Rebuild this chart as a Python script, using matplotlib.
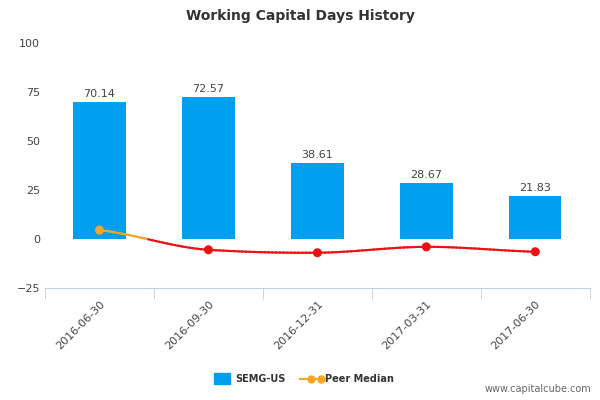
import matplotlib.pyplot as plt
import numpy as np

categories = ["2016-06-30", "2016-09-30", "2016-12-31", "2017-03-31", "2017-06-30"]
semg_values = [70.14, 72.57, 38.61, 28.67, 21.83]
peer_median = [4.5, -5.5, -7.0, -4.0, -6.5]


def smooth(x, y, n=30):
    # Catmull-Rom style curve through the points
    x = np.asarray(x, float)
    y = np.asarray(y, float)
    m = np.gradient(y, x)
    xs, ys = [], []
    for i in range(len(x) - 1):
        t = np.linspace(0, 1, n)
        h = x[i + 1] - x[i]
        h00 = 2 * t**3 - 3 * t**2 + 1
        h10 = t**3 - 2 * t**2 + t
        h01 = -2 * t**3 + 3 * t**2
        h11 = t**3 - t**2
        xs.append(x[i] + t * h)
        ys.append(h00 * y[i] + h10 * h * m[i] * 0.6 + h01 * y[i + 1] + h11 * h * m[i + 1] * 0.6)
    return np.concatenate(xs), np.concatenate(ys)


def main() -> None:
    fig = plt.figure(figsize=(6, 4), dpi=100)
    ax = fig.add_axes([0.075, 0.28, 0.908, 0.6125])

    x = np.arange(len(categories))
    bars = ax.bar(x, semg_values, width=0.48, color="#019ff0", zorder=2)
    for rect, v in zip(bars, semg_values):
        ax.text(rect.get_x() + rect.get_width() / 2, v + 1.5, f"{v:.2f}",
                ha="center", va="bottom", fontsize=8, color="#444444")

    xs, ys = smooth(x, peer_median)
    for i in range(len(xs) - 1):
        c = "#f5a623" if (ys[i] + ys[i + 1]) / 2 >= 0 else "#ee1111"
        ax.plot(xs[i:i + 2], ys[i:i + 2], color=c, linewidth=1.5, zorder=3)
    colors = ["#f5a623" if v >= 0 else "#ee1111" for v in peer_median]
    ax.scatter(x, peer_median, color=colors, s=30, zorder=4)

    ax.set_xlim(-0.5, len(categories) - 0.5)
    ax.set_ylim(-25, 100)
    ax.set_yticks([-25, 0, 25, 50, 75, 100])
    ax.tick_params(axis="y", length=0, labelsize=8, labelcolor="#444444")
    ax.set_xticks(x)
    ax.set_xticklabels(categories, rotation=45, ha="right", rotation_mode="anchor",
                       fontsize=8, color="#444444")
    ax.tick_params(axis="x", length=0, pad=8)
    ax.set_xticks(np.arange(-0.5, len(categories)), minor=True)
    ax.tick_params(axis="x", which="minor", length=8, color="#c0d0e0")
    for s in ["top", "right", "left"]:
        ax.spines[s].set_visible(False)
    ax.spines["bottom"].set_color("#c0d0e0")

    fig.text(0.5, 0.96, "Working Capital Days History", ha="center", va="center",
             fontsize=10, fontweight="bold", color="#333333")

    fig.patches.append(plt.Rectangle((0.357, 0.04), 0.027, 0.028, color="#019ff0",
                                     transform=fig.transFigure, figure=fig))
    fig.text(0.392, 0.053, "SEMG-US", fontsize=7, fontweight="bold", color="#333333", va="center")
    fig.lines.append(plt.Line2D([0.5, 0.535], [0.053, 0.053], color="#f5a623", marker="o",
                                markersize=5, markevery=[1], transform=fig.transFigure))
    fig.lines.append(plt.Line2D([0.5175], [0.053], color="#f5a623", marker="o",
                                markersize=5, transform=fig.transFigure))
    fig.text(0.542, 0.053, "Peer Median", fontsize=7, fontweight="bold", color="#333333", va="center")
    fig.text(0.985, 0.02, "www.capitalcube.com", fontsize=7, color="#666666", ha="right")

    fig.savefig("out.png", dpi=100)


if __name__ == "__main__":
    main()
